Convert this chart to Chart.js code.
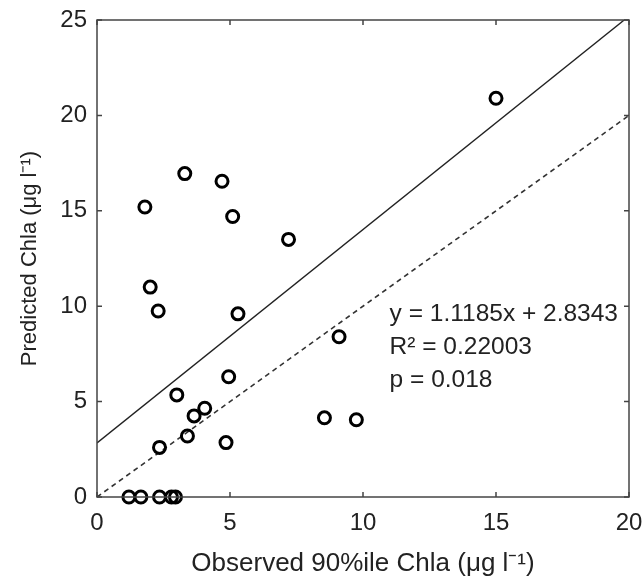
<!DOCTYPE html>
<html>
<head>
<meta charset="utf-8">
<script src="https://cdn.jsdelivr.net/npm/chart.js@4"></script>
<style>
  html, body { margin: 0; padding: 0; background: #fff; }
  #wrap { width: 644px; height: 581px; }
</style>
</head>
<body>
<div id="wrap"><canvas id="chlaChart" width="644" height="581"></canvas></div>
<script>
// observed 90%ile vs predicted chla
const observed = [15.0, 3.3, 4.7, 1.8, 5.1, 7.2, 2.0, 2.3, 5.3, 9.1, 4.95, 3.0, 4.05, 3.65, 3.4, 8.55, 9.75, 4.85, 2.35, 1.2, 1.65, 2.35, 2.8, 2.95];
const predicted = [20.9, 16.95, 16.55, 15.2, 14.7, 13.5, 11.0, 9.75, 9.6, 8.4, 6.3, 5.35, 4.65, 4.25, 3.2, 4.15, 4.05, 2.85, 2.6, 0, 0, 0, 0, 0];

// regression line and 1:1 line end points
const fitX = [0, 19.82];
const fitY = [2.83, 25];
const oneX = [0, 20];
const oneY = [0, 20];

const xTicks = [0, 5, 10, 15, 20];
const yTicks = [0, 5, 10, 15, 20, 25];

const statsText = ["y = 1.1185x + 2.8343", "R\u00b2 = 0.22003", "p = 0.018"];

const FONT = "'Liberation Sans', Arial, sans-serif";

function toPoints(xs, ys) {
  return xs.map((x, i) => ({ x: x, y: ys[i] }));
}

// box around the plot and MATLAB style inward ticks
const boxPlugin = {
  id: "box",
  afterDraw(chart) {
    const c = chart.ctx;
    const a = chart.chartArea;
    const xs = chart.scales.x;
    const ys = chart.scales.y;
    c.save();
    c.strokeStyle = "#444";
    c.lineWidth = 1.5;
    c.strokeRect(a.left, a.top, a.right - a.left, a.bottom - a.top);
    c.beginPath();
    xTicks.forEach((t) => {
      const px = xs.getPixelForValue(t);
      c.moveTo(px, a.bottom); c.lineTo(px, a.bottom - 5);
      c.moveTo(px, a.top); c.lineTo(px, a.top + 5);
    });
    yTicks.forEach((t) => {
      const py = ys.getPixelForValue(t);
      c.moveTo(a.left, py); c.lineTo(a.left + 5, py);
      c.moveTo(a.right, py); c.lineTo(a.right - 5, py);
    });
    c.stroke();

    // stats text
    c.fillStyle = "#222";
    c.font = "24.5px " + FONT;
    c.textBaseline = "middle";
    const tx = xs.getPixelForValue(11.0);
    const ty = ys.getPixelForValue(9.6);
    statsText.forEach((s, i) => {
      c.fillText(s, tx, ty + i * 33);
    });
    c.restore();
  }
};

const ctx = document.getElementById("chlaChart");

const chart = new Chart(ctx, {
  type: "scatter",
  data: {
    datasets: [
      {
        label: "1:1",
        data: toPoints(oneX, oneY),
        showLine: true,
        borderColor: "#333",
        borderWidth: 1.6,
        borderDash: [5, 4],
        pointRadius: 0,
        order: 3,
      },
      {
        label: "fit",
        data: toPoints(fitX, fitY),
        showLine: true,
        borderColor: "#222",
        borderWidth: 1.4,
        pointRadius: 0,
        order: 2,
      },
      {
        label: "sites",
        data: toPoints(observed, predicted),
        pointStyle: "circle",
        pointRadius: 6,
        borderWidth: 3,
        borderColor: "#000",
        backgroundColor: "rgba(255,255,255,0)",
        order: 1,
        clip: false,
      },
    ],
  },
  options: {
    responsive: false,
    animation: false,
    layout: {
      padding: { top: 20, right: 15, left: 0, bottom: 0 },
    },
    scales: {
      x: {
        type: "linear",
        min: 0,
        max: 20,
        afterFit: (s) => { s.height = 84; s.paddingRight = 0; s.paddingLeft = 0; },
        afterBuildTicks: (s) => { s.ticks = xTicks.map((v) => ({ value: v })); },
        grid: { display: false, drawTicks: false },
        border: { display: false },
        ticks: {
          color: "#222",
          padding: 12,
          font: { family: FONT, size: 24 },
        },
        title: {
          display: true,
          text: "Observed 90%ile Chla (\u03bcg l\u207b\u00b9)",
          color: "#222",
          padding: { top: 4, bottom: 2 },
          font: { family: FONT, size: 26 },
        },
      },
      y: {
        type: "linear",
        min: 0,
        max: 25,
        afterFit: (s) => { s.width = 97; s.paddingTop = 0; s.paddingBottom = 0; },
        afterBuildTicks: (s) => { s.ticks = yTicks.map((v) => ({ value: v })); },
        grid: { display: false, drawTicks: false },
        border: { display: false },
        ticks: {
          color: "#222",
          padding: 10,
          font: { family: FONT, size: 24 },
        },
        title: {
          display: true,
          text: "Predicted Chla (\u03bcg l\u207b\u00b9)",
          color: "#222",
          padding: { top: 17, bottom: 4 },
          font: { family: FONT, size: 22 },
        },
      },
    },
    plugins: {
      legend: { display: false },
      tooltip: { enabled: false },
    },
  },
  plugins: [boxPlugin],
});
</script>
</body>
</html>
